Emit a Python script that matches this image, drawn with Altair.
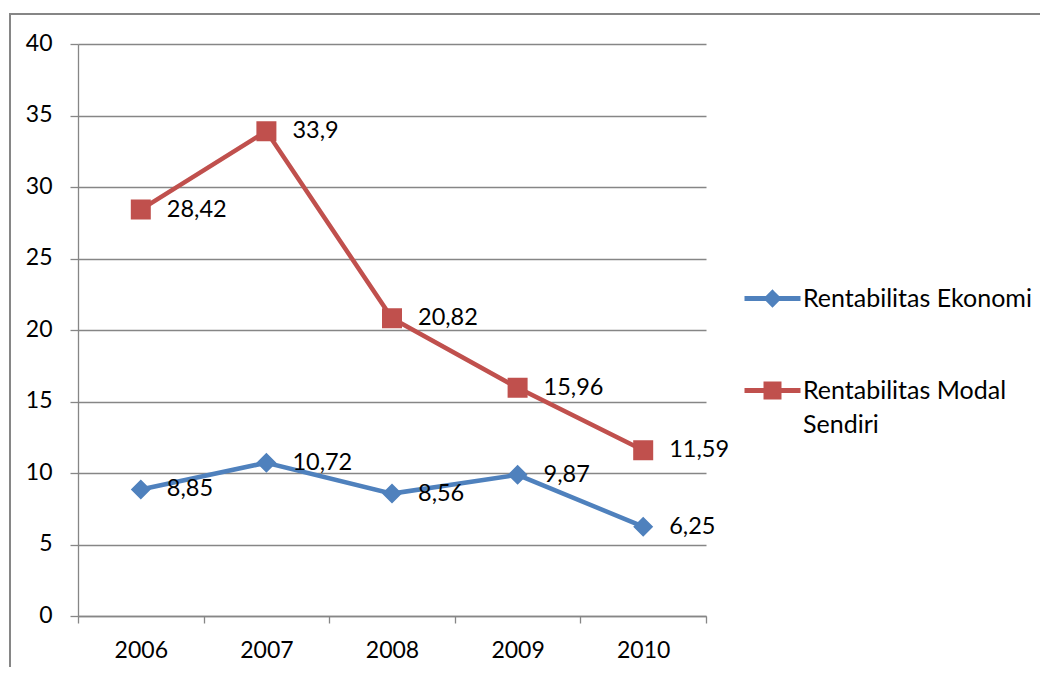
import altair as alt
import pandas as pd

years = ["2006", "2007", "2008", "2009", "2010"]
ekonomi = [8.85, 10.72, 8.56, 9.87, 6.25]
modal_sendiri = [28.42, 33.9, 20.82, 15.96, 11.59]
series_names = ["Rentabilitas Ekonomi", "Rentabilitas Modal Sendiri"]
series_colors = ["#4F81BD", "#C0504D"]
y_ticks = [0, 5, 10, 15, 20, 25, 30, 35, 40]

# marker paths: a horizontal stroke (only visible in the legend, where it is stroked)
# plus a filled diamond / square
shape_paths = [
    "M-1,0H1M0,-0.2L0.2,0L0,0.2L-0.2,0Z",
    "M-1,0H1M-0.232,-0.232H0.232V0.232H-0.232Z",
]
marker_sizes = [10000, 7430]

rows = []
for name, vals in zip(series_names, [ekonomi, modal_sendiri]):
    for yr, v in zip(years, vals):
        rows.append({"year": yr, "series": name, "value": v,
                     "label": f"{v:g}".replace(".", ",")})
df = pd.DataFrame(rows)

FONT = "Lato"
GRAY = "#868686"
AXIS_FS = 23
DATA_FS = 23.5
LEG_FS = 25

x = alt.X("year:N",
          scale=alt.Scale(type="band", domain=years, paddingInner=0, paddingOuter=0),
          axis=alt.Axis(title=None, tickBand="extent", labelAngle=0, labelFontSize=AXIS_FS,
                        labelFont=FONT, labelColor="black", labelPadding=28, tickSize=7,
                        labelBaseline="top",
                        tickColor=GRAY, domainColor=GRAY, domainWidth=1.3, tickWidth=1.3,
                        grid=False))
y = alt.Y("value:Q",
          scale=alt.Scale(domain=[0, 40], nice=False),
          axis=alt.Axis(title=None, values=y_ticks, labelFontSize=AXIS_FS, labelFont=FONT,
                        labelColor="black", labelPadding=18, tickSize=8, tickColor=GRAY,
                        labelBaseline="top",
                        tickWidth=1.3, domainColor=GRAY, domainWidth=1.3, gridColor=GRAY,
                        gridOpacity=1, gridWidth=1.3))

legend = alt.Legend(
    title=None, orient="none", legendX=664, legendY=224, padding=0,
    labelFontSize=LEG_FS, labelFont=FONT, labelColor="black", labelBaseline="top",
    labelOffset=0, labelLimit=400, symbolSize=3136, rowPadding=45,
    symbolStrokeWidth=5, symbolOpacity=1,
    labelExpr="datum.label == 'Rentabilitas Modal Sendiri' ? ['Rentabilitas Modal', 'Sendiri'] : datum.label",
)

color_scale = alt.Scale(domain=series_names, range=series_colors)
shape_scale = alt.Scale(domain=series_names, range=shape_paths)

lines = alt.Chart(df).mark_line(strokeWidth=4.5).encode(
    x=x, y=y,
    stroke=alt.Stroke("series:N", scale=color_scale, legend=legend),
)

point_layers = []
for name, msize in zip(series_names, marker_sizes):
    point_layers.append(
        alt.Chart(df).transform_filter(alt.datum.series == name)
        .mark_point(filled=True, opacity=1, size=msize).encode(
            x=x, y=y,
            fill=alt.Fill("series:N", scale=color_scale, legend=legend),
            shape=alt.Shape("series:N", scale=shape_scale, legend=legend),
        )
    )

labels = alt.Chart(df).mark_text(align="left", baseline="middle", dx=26, fontSize=DATA_FS,
                                 font=FONT, color="black").encode(
    x=x, y=y, text="label:N")

frame = alt.Chart(pd.DataFrame({"frame": [1]})).mark_rect(
    fill="transparent", stroke=GRAY, strokeWidth=2).encode(
    x=alt.value(-68), x2=alt.value(1100), y=alt.value(-30), y2=alt.value(720))

chart = alt.layer(frame, lines, *point_layers, labels).properties(
    width=628, height=572,
    autosize=alt.AutoSizeParams(type="none"),
    padding={"left": 70, "top": 36, "right": 334, "bottom": 51},
).configure(
    style={"guide-label": {"lineHeight": 34, "dy": -12}}
).configure_view(strokeWidth=0)

chart.save("out.html", embed_options={"renderer": "svg", "actions": False})
